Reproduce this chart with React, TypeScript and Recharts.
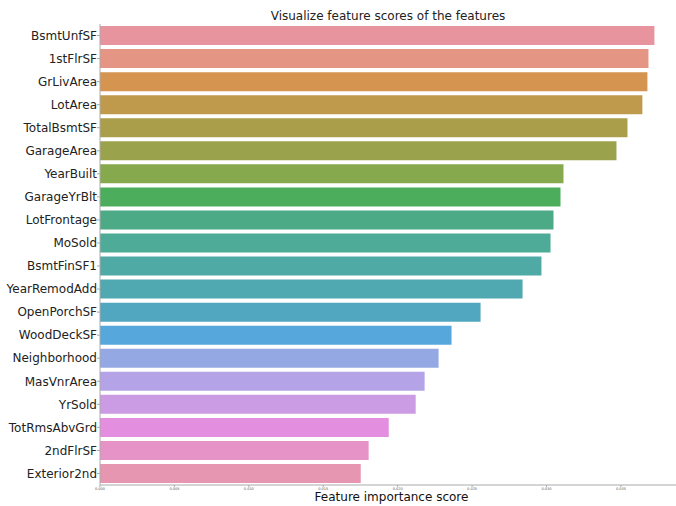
import { BarChart, Bar, XAxis, YAxis, Cell } from "recharts";

const features = [
  "BsmtUnfSF",
  "1stFlrSF",
  "GrLivArea",
  "LotArea",
  "TotalBsmtSF",
  "GarageArea",
  "YearBuilt",
  "GarageYrBlt",
  "LotFrontage",
  "MoSold",
  "BsmtFinSF1",
  "YearRemodAdd",
  "OpenPorchSF",
  "WoodDeckSF",
  "Neighborhood",
  "MasVnrArea",
  "YrSold",
  "TotRmsAbvGrd",
  "2ndFlrSF",
  "Exterior2nd",
];

const scores = [
  0.03725, 0.03685, 0.03678, 0.03644, 0.03544, 0.0347, 0.03114, 0.03094,
  0.03047, 0.03027, 0.02966, 0.02839, 0.02557, 0.02362, 0.02275, 0.02181,
  0.02121, 0.0194, 0.01805, 0.01752,
];

const colors = [
  "#e8949f", "#e59583", "#d5944f", "#bf9a4c", "#ab9e4b",
  "#9aa24c", "#86a94d", "#4cae5c", "#4daa87", "#4eab97",
  "#4fa9a5", "#50a8b1", "#51a7bf", "#56a8dc", "#94a8e4",
  "#b4a3e6", "#cb9be3", "#e48ee0", "#e693c8", "#e796b2",
];

const xTicks = [0, 0.005, 0.01, 0.015, 0.02, 0.025, 0.03, 0.035];

const data = features.map((name, i) => ({ name, score: scores[i] }));

const font = "DejaVu Sans, sans-serif";

export default function App() {
  return (
    <div style={{ width: 676, height: 506, position: "relative", fontFamily: font }}>
      <style>{`body{margin:0}`}</style>
      <BarChart
        width={676}
        height={506}
        data={data}
        layout="vertical"
        barCategoryGap="9%"
        margin={{ top: 24, right: 0, left: 0, bottom: 0 }}
      >
        <XAxis
          xAxisId="bottom"
          type="number"
          domain={[0, 0.0387]}
          ticks={xTicks}
          tickFormatter={(v: number) => v.toFixed(3)}
          height={21}
          allowDataOverflow
          axisLine={{ stroke: "#aaaaaa" }}
          tickLine={{ stroke: "#aaaaaa" }}
          tickSize={2}
          tickMargin={1}
          tick={{ fontSize: 3.5, fill: "#555", fontFamily: font }}
        />
        <XAxis
          xAxisId="top"
          orientation="top"
          type="number"
          domain={[0, 0.0387]}
          height={0}
          tick={false}
          tickLine={false}
          axisLine={{ stroke: "#aaaaaa" }}
        />
        <YAxis
          type="category"
          dataKey="name"
          width={100}
          axisLine={{ stroke: "#aaaaaa" }}
          tickLine={{ stroke: "#aaaaaa" }}
          tickSize={3}
          tickMargin={0}
          tick={{ fontSize: 12, fill: "#222", fontFamily: font }}
        />
        <Bar dataKey="score" xAxisId="bottom" isAnimationActive={false}>
          {data.map((d, i) => (
            <Cell key={d.name} fill={colors[i]} />
          ))}
        </Bar>
      </BarChart>
      <div
        style={{
          position: "absolute",
          left: 100,
          width: 576,
          top: 9,
          textAlign: "center",
          fontSize: 12,
          color: "#222",
        }}
      >
        Visualize feature scores of the features
      </div>
      <div
        style={{
          position: "absolute",
          left: 100,
          width: 583,
          top: 490,
          textAlign: "center",
          fontSize: 12,
          color: "#111",
        }}
      >
        Feature importance score
      </div>
    </div>
  );
}
